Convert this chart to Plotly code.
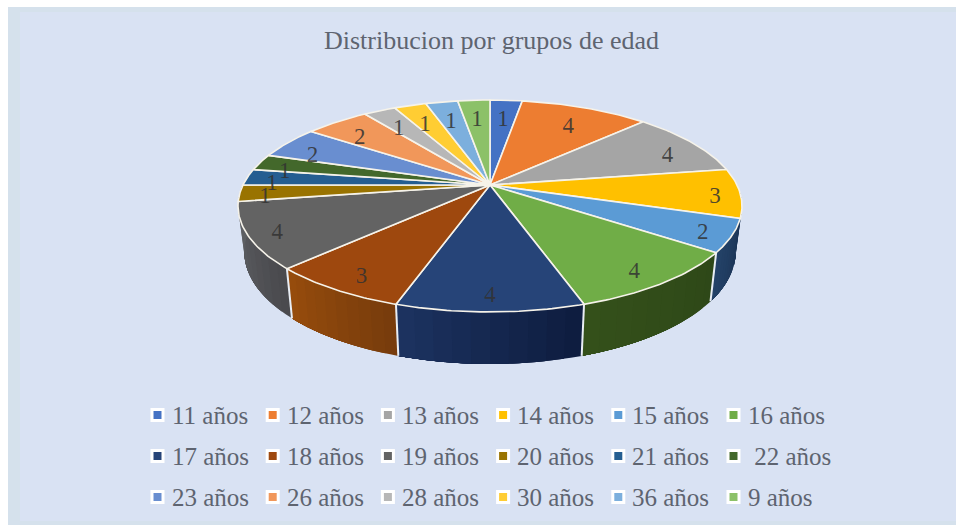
import math
import plotly.graph_objects as go

# ---- data ----
categories = ["11 años", "12 años", "13 años", "14 años", "15 años", "16 años",
              "17 años", "18 años", "19 años", "20 años", "21 años", "22 años",
              "23 años", "26 años", "28 años", "30 años", "36 años", "9 años"]
values = [1, 4, 4, 3, 2, 4, 4, 3, 4, 1, 1, 1, 2, 2, 1, 1, 1, 1]
title_text = "Distribucion por grupos de edad"

colors = ["#4472C4", "#ED7D31", "#A5A5A5", "#FFC000", "#5B9BD5", "#70AD47",
          "#264478", "#9E480E", "#636363", "#997300", "#255E91", "#43682B",
          "#698ED0", "#F1975A", "#B7B7B7", "#FFCD33", "#7CAFDD", "#8CC168"]
wall_left = {3: (28, 54, 88), 4: (36, 66, 104), 5: (52, 80, 26), 6: (28, 50, 95),
             7: (150, 76, 12), 8: (94, 96, 100), 9: (94, 96, 100)}
wall_right = {3: (28, 54, 88), 4: (28, 54, 88), 5: (46, 72, 24), 6: (14, 29, 64),
              7: (120, 60, 12), 8: (74, 74, 78), 9: (94, 96, 100)}

# ---- projection of the tilted disc onto the page ----
CX, CY, BX, BY, PERSP = 490.0, 185.0, 247.0, 101.8, 0.198
SCALE_LOW = 0.975


def top(theta):
    u, v = math.sin(theta), math.cos(theta)
    s = 1.0 / (1.0 + PERSP * v)
    return CX + BX * u * s, CY - BY * v * s


def low(theta):
    x, y = top(theta)
    return CX + (x - CX) * SCALE_LOW, y + 44 - 8 * math.cos(theta)


def arc(fn, a, b, n=40):
    pts = [fn(a + (b - a) * i / n) for i in range(n + 1)]
    return [p[0] for p in pts], [p[1] for p in pts]


total = sum(values)
edges = [0.0]
for val in values:
    edges.append(edges[-1] + val / total * 2 * math.pi)

fig = go.Figure()

# walls of the visible front half: each band runs to the slice's end and the
# next one paints over it, so no background shows between bands
WALL_A, WALL_B = math.pi / 2, 3 * math.pi / 2
SEP_A, SEP_B = math.radians(115), math.radians(255)
separators_x, separators_y = [], []
for i in range(len(values)):
    a, b = max(edges[i], WALL_A), min(edges[i + 1], WALL_B)
    if b <= a:
        continue
    c0 = wall_right[i]
    c1 = wall_left[i]
    strips = 10
    for k in range(strips):
        t0 = a + (b - a) * k / strips
        xt, yt = arc(top, t0, b, 16)
        xb, yb = arc(low, t0, b, 16)
        f = k / (strips - 1)
        col = "rgb(%d,%d,%d)" % tuple(round(c0[j] + (c1[j] - c0[j]) * f) for j in range(3))
        fig.add_trace(go.Scatter(x=xt + xb[::-1] + [xt[0]], y=yt + yb[::-1] + [yt[0]],
                                 mode="none", fill="toself", fillcolor=col,
                                 hoverinfo="skip", showlegend=False))
    if SEP_A < edges[i + 1] < SEP_B:
        p, q = top(edges[i + 1]), low(edges[i + 1])
        separators_x += [p[0], q[0], None]
        separators_y += [p[1], q[1], None]

fig.add_trace(go.Scatter(x=separators_x, y=separators_y, mode="lines",
                         line=dict(color="#e8edf4", width=2),
                         hoverinfo="skip", showlegend=False))

# top face wedges
for i, (name, val) in enumerate(zip(categories, values)):
    xs, ys = arc(top, edges[i], edges[i + 1])
    fig.add_trace(go.Scatter(x=[CX] + xs + [CX], y=[CY] + ys + [CY], mode="lines",
                             fill="toself", fillcolor=colors[i],
                             line=dict(color="#f6f3ea", width=1.6),
                             name=name, hovertemplate=f"{name}: {val}<extra></extra>",
                             showlegend=False))

# value labels
lx, ly = [], []
for i in range(len(values)):
    m = (edges[i] + edges[i + 1]) / 2
    px, py = top(m)
    rx = 0.9 - 0.1 * math.cos(m) ** 2
    lx.append(CX + (px - CX) * rx)
    ly.append(CY + (py - CY) * 0.83 + 6)
fig.add_trace(go.Scatter(x=lx, y=ly, mode="text", text=[str(v) for v in values],
                         textfont=dict(family="Liberation Serif", size=23, color="rgba(50,50,50,0.85)"),
                         hoverinfo="skip", showlegend=False))

# legend grid
COLS, COL0, COLW, ROW0, ROWH, TXT = 6, 157.5, 115.2, 415, 41, 12
for i, name in enumerate(categories):
    r, c = divmod(i, COLS)
    x0, y0 = COL0 + c * COLW, ROW0 + r * ROWH
    label = "\u00a0" + name if name == "22 años" else name
    fig.add_trace(go.Scatter(x=[x0], y=[y0], mode="markers",
                             marker=dict(symbol="square", size=11, color=colors[i],
                                         opacity=1, line=dict(color="white", width=3)),
                             hoverinfo="skip", showlegend=False))
    fig.add_annotation(x=x0 + TXT, y=y0, text=label, showarrow=False, xanchor="left",
                       yanchor="middle",
                       font=dict(family="Liberation Serif", size=25, color="#5e6470"))

fig.add_annotation(x=491, y=40, text=title_text, showarrow=False, xanchor="center", yanchor="middle",
                   font=dict(family="Liberation Serif", size=26, color="#5e6470"))

fig.update_layout(
    width=956, height=525, autosize=False, margin=dict(l=0, r=0, t=0, b=0),
    paper_bgcolor="white", plot_bgcolor="white", showlegend=False,
    xaxis=dict(range=[0, 956], visible=False, fixedrange=True),
    yaxis=dict(range=[525, 0], visible=False, fixedrange=True),
    shapes=[
        dict(type="rect", xref="x", yref="y", x0=8, y0=7, x1=956, y1=525, layer="below",
             line=dict(width=0), fillcolor="#d5e1ec"),
        dict(type="rect", xref="x", yref="y", x0=20, y0=12, x1=956, y1=521, layer="below",
             line=dict(width=0), fillcolor="#d9e2f3"),
    ],
)

fig.write_html("out.html", config=dict(displayModeBar=False),
               post_script="document.body.style.margin='0';document.body.style.overflow='hidden';")
